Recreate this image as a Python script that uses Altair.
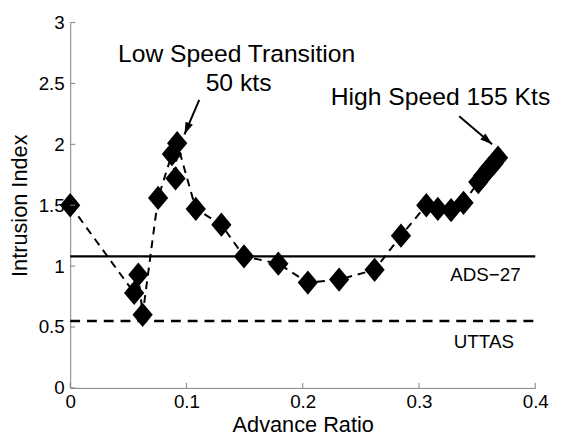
import altair as alt
import pandas as pd

# ---- data ----
advance_ratio = [0.0, 0.055, 0.0586, 0.0623, 0.0756, 0.0875, 0.0906, 0.092, 0.108,
                 0.130, 0.1495, 0.179, 0.2044, 0.2313, 0.2618, 0.2845,
                 0.3063, 0.3162, 0.3276, 0.3383,
                 0.351, 0.355, 0.360, 0.364, 0.368]
intrusion_index = [1.50, 0.78, 0.93, 0.60, 1.56, 1.92, 1.72, 2.01, 1.47,
                   1.34, 1.08, 1.02, 0.865, 0.89, 0.97, 1.25,
                   1.50, 1.47, 1.46, 1.52,
                   1.69, 1.74, 1.80, 1.84, 1.89]

ref_names = ["ADS\u221227", "UTTAS"]
ref_values = [1.08, 0.55]
ref_label_x = [0.3571, 0.3558]
ref_label_y = [0.876, 0.324]

annot_text = ["Low Speed Transition", "50 kts", "High Speed 155 Kts"]
annot_x = [0.1431, 0.1448, 0.3185]
annot_y = [2.676, 2.441, 2.320]

arrow_x0 = [0.111, 0.3346]
arrow_y0 = [2.366, 2.230]
arrow_x1 = [0.0983, 0.3629]
arrow_y1 = [2.082, 2.001]
arrow_angle = [203, 130]

x_ticks = [0.0, 0.1, 0.2, 0.3, 0.4]
y_ticks = [0.0, 0.5, 1.0, 1.5, 2.0, 2.5, 3.0]

W, H = 471, 370
FONT = "Liberation Sans"
GREY = "#808080"

xs = alt.Scale(domain=[0, 0.4], nice=False, zero=False)
ys = alt.Scale(domain=[0, 3], nice=False, zero=False)

pts = pd.DataFrame({"adv": advance_ratio, "idx": intrusion_index,
                    "order": list(range(len(advance_ratio)))})
refs = pd.DataFrame({"name": ref_names, "v": ref_values, "lx": ref_label_x,
                     "ly": ref_label_y, "x0": [0.0, 0.0], "x1": [0.4, 0.4]})
ann = pd.DataFrame({"t": annot_text, "x": annot_x, "y": annot_y})
arr = pd.DataFrame({"x0": arrow_x0, "y0": arrow_y0, "x1": arrow_x1,
                    "y1": arrow_y1, "ang": arrow_angle})
xt = pd.DataFrame({"v": x_ticks})
yt = pd.DataFrame({"v": y_ticks})

AX = alt.Axis(title="Advance Ratio", values=x_ticks, format="~g",
              grid=False, ticks=False, domainColor=GREY, domainWidth=1,
              labelFontSize=19, labelFont=FONT, labelColor="black",
              labelPadding=5, labelFlush=False,
              titleFontSize=22, titleFont=FONT, titleFontWeight="normal",
              titleColor="black", titleX=235.5, titleY=44,
              titleBaseline="alphabetic", titleAlign="center")
AY = alt.Axis(title="Intrusion Index", values=y_ticks, format="~g",
              grid=False, ticks=False, domainColor=GREY, domainWidth=1,
              labelFontSize=19, labelFont=FONT, labelColor="black",
              labelPadding=6, labelFlush=False,
              titleFontSize=22, titleFont=FONT, titleFontWeight="normal",
              titleColor="black", titleX=-44, titleY=185,
              titleAngle=270, titleAlign="center",
              titleBaseline="alphabetic")


def X(f):
    return alt.X(f, scale=xs, axis=AX)


def Y(f):
    return alt.Y(f, scale=ys, axis=AY)


line = alt.Chart(pts).mark_line(color="black", strokeWidth=2,
                                strokeDash=[8, 6]).encode(
    x=X("adv:Q"), y=Y("idx:Q"), order="order:Q")

points = alt.Chart(pts).mark_point(
    filled=True, opacity=1, color="black", size=420,
    shape="M0,-1.2L1,0L0,1.2L-1,0Z").encode(
    x=X("adv:Q"), y=Y("idx:Q"))

ads = alt.Chart(refs[refs["name"] == ref_names[0]]).mark_rule(
    color="black", strokeWidth=2.5).encode(
    x=X("x0:Q"), x2="x1:Q", y=Y("v:Q"))
uttas = alt.Chart(refs[refs["name"] == ref_names[1]]).mark_rule(
    color="black", strokeWidth=2.5, strokeDash=[10, 7]).encode(
    x=X("x0:Q"), x2="x1:Q", y=Y("v:Q"))

ref_text = alt.Chart(refs).mark_text(
    font=FONT, fontSize=19, color="black", align="center",
    baseline="alphabetic").encode(
    x=X("lx:Q"), y=Y("ly:Q"), text="name:N")

ann_text = alt.Chart(ann).mark_text(
    font=FONT, fontSize=25, color="black", align="center",
    baseline="alphabetic").encode(
    x=X("x:Q"), y=Y("y:Q"), text="t:N")

arrow_shaft = alt.Chart(arr).mark_rule(color="black", strokeWidth=2).encode(
    x=X("x0:Q"), x2="x1:Q", y=Y("y0:Q"), y2="y1:Q")
arrow_head = alt.Chart(arr).mark_point(
    filled=True, opacity=1, color="black", size=600,
    shape="M0,0L-0.33,1L0.33,1Z").encode(
    x=X("x1:Q"), y=Y("y1:Q"),
    angle=alt.Angle("ang:Q", scale=None))

xtick = alt.Chart(xt).mark_rule(color=GREY, strokeWidth=1).encode(
    x=X("v:Q"), y=alt.value(H), y2=alt.value(H - 5))
ytick = alt.Chart(yt).mark_rule(color=GREY, strokeWidth=1).encode(
    y=Y("v:Q"), x=alt.value(0), x2=alt.value(5))

chart = alt.layer(
    line, points, ads, uttas, ref_text, ann_text,
    arrow_shaft, arrow_head, xtick, ytick
).properties(
    width=W, height=H,
    autosize=alt.AutoSizeParams(type="none"),
    padding={"left": 63, "top": 12, "right": 20, "bottom": 50},
    background="white"
).configure_view(stroke=None)

chart.save("out.html", embed_options={"renderer": "svg", "actions": False})
